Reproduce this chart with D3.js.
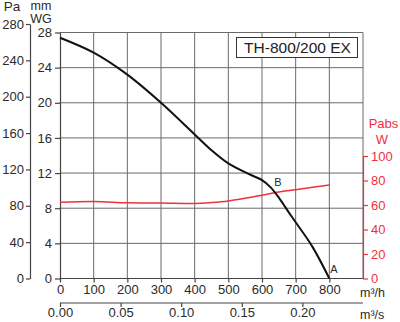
<!DOCTYPE html>
<html><head><meta charset="utf-8">
<script src="https://cdn.jsdelivr.net/npm/d3@7"></script>
<style>body{margin:0;background:#fff}svg{display:block;font-family:"Liberation Sans",Arial,sans-serif}</style>
</head><body><svg id="c" width="400" height="322"></svg>
<script>
// Data
const flowTicks = [0,100,200,300,400,500,600,700,800];
const flowSTicks = [0.00,0.05,0.10,0.15,0.20];
const wgTicks = [0,4,8,12,16,20,24,28];
const paTicks = [0,40,80,120,160,200,240,280];
const wTicks = [0,20,40,60,80,100];
const pressureFlow = [0,100,200,300,400,450,500,560,600,625,650,680,700,750,800];
const pressureWG  = [27.4,25.7,23.2,20.0,16.4,14.6,13.1,11.9,11.2,10.4,9.2,7.5,6.4,3.6,0];
const powerFlow = [0,100,200,300,400,450,500,550,600,650,700,800];
const powerW    = [62.2,62.8,61.8,61.6,61.2,62,63.3,65.5,68,70.6,72.5,76.3];
const title = "TH-800/200 EX";

const svg = d3.select("#c");
const L=60,R=363,T=32.5,B=278.5;
const x = d3.scaleLinear().domain([0,900]).range([L,R]);
const xs = d3.scaleLinear().domain([0,0.25]).range([L,R]);
const y = d3.scaleLinear().domain([0,28]).range([B,T]);
const yPa = d3.scaleLinear().domain([0,280]).range([B,24]);
const yW = d3.scaleLinear().domain([0,100]).range([B,156]);
const red = "#f0303e", grid="#6a6a6a", txt="#2a2a2a";

// grid
const g = svg.append("g");
[100,200,300,400,500,600,700,800,900].forEach(v=>g.append("line").attr("x1",x(v)).attr("x2",x(v)).attr("y1",T).attr("y2",B).attr("stroke",grid).attr("stroke-width",1));
[4,8,12,16,20,24,28].forEach(v=>g.append("line").attr("x1",L).attr("x2",R).attr("y1",y(v)).attr("y2",y(v)).attr("stroke",grid).attr("stroke-width",1));

function styleAxis(sel,color){
  sel.select(".domain").attr("stroke",color).attr("stroke-width",1.2);
  sel.selectAll(".tick line").attr("stroke",color).attr("stroke-width",1.2);
  sel.selectAll(".tick text").attr("fill",color===red?red:txt).attr("font-size",13).attr("font-family","Liberation Sans, Arial, sans-serif");
}
// left mmWG axis
const aWG = svg.append("g").attr("transform",`translate(${L},0)`).call(d3.axisLeft(y).tickValues(wgTicks).tickSize(5).tickSizeOuter(0).tickPadding(3).tickFormat(d3.format("d")));
styleAxis(aWG,"#444");
// Pa axis
const aPa = svg.append("g").attr("transform",`translate(30,0)`).call(d3.axisLeft(yPa).tickValues(paTicks).tickSize(4).tickSizeOuter(0).tickPadding(2).tickFormat(d3.format("d")));
styleAxis(aPa,"#444");
// Right W axis
const aW = svg.append("g").attr("transform",`translate(${R},0)`).call(d3.axisRight(yW).tickValues(wTicks).tickSize(5).tickSizeOuter(0).tickPadding(3).tickFormat(d3.format("d")));
styleAxis(aW,red);
// bottom m3/h
const aX = svg.append("g").attr("transform",`translate(0,${B})`).call(d3.axisBottom(x).tickValues(flowTicks).tickSize(4).tickSizeOuter(0).tickPadding(2).tickFormat(d3.format("d")));
styleAxis(aX,"#444");
aX.select(".domain").attr("d",`M${L},0H${R}`);
// bottom m3/s
const aXs = svg.append("g").attr("transform",`translate(0,303)`).call(d3.axisBottom(xs).tickValues(flowSTicks).tickSize(4).tickSizeOuter(0).tickPadding(1).tickFormat(d3.format(".2f")));
styleAxis(aXs,"#444");
aXs.select(".domain").attr("d",`M${L},0H${R}`);
// top frame
svg.append("line").attr("x1",L).attr("x2",R).attr("y1",T).attr("y2",T).attr("stroke",grid).attr("stroke-width",1.2);

// curves
const pData = pressureFlow.map((f,i)=>[f,pressureWG[i]]);
const wData = powerFlow.map((f,i)=>[f,powerW[i]]);
svg.append("path").datum(wData).attr("fill","none").attr("stroke",red).attr("stroke-width",1.5)
  .attr("d",d3.line().x(d=>x(d[0])).y(d=>yW(d[1])).curve(d3.curveCatmullRom.alpha(0.5)));
svg.append("path").datum(pData).attr("fill","none").attr("stroke","#111").attr("stroke-width",2)
  .attr("d",d3.line().x(d=>x(d[0])).y(d=>y(d[1])).curve(d3.curveCatmullRom.alpha(0.5)));

// labels
const t = (s,xx,yy,anchor,color,size)=>svg.append("text").attr("x",xx).attr("y",yy).attr("text-anchor",anchor||"start").attr("fill",color||txt).attr("font-size",size||13).text(s);
t("Pa",12,11,"middle",txt,13.5);
t("mm",41,9.5,"middle",txt,12.5);
t("WG",41,22.5,"middle",txt,12.5);
t("Pabs",383.5,128,"middle",red,13);
t("W",382,144,"middle",red,13);
t("m³/h",360,297,"start",txt,12.5);
t("m³/s",360,319,"start",txt,12.5);
t("B",278,186,"middle",txt,11);
t("A",334,273,"middle",txt,11);
// title box
svg.append("rect").attr("x",236.5).attr("y",37.5).attr("width",121).attr("height",20).attr("fill","#fff").attr("stroke","#333").attr("stroke-width",1);
t(title,297.5,53,"middle","#222",15.5);
</script></body></html>
